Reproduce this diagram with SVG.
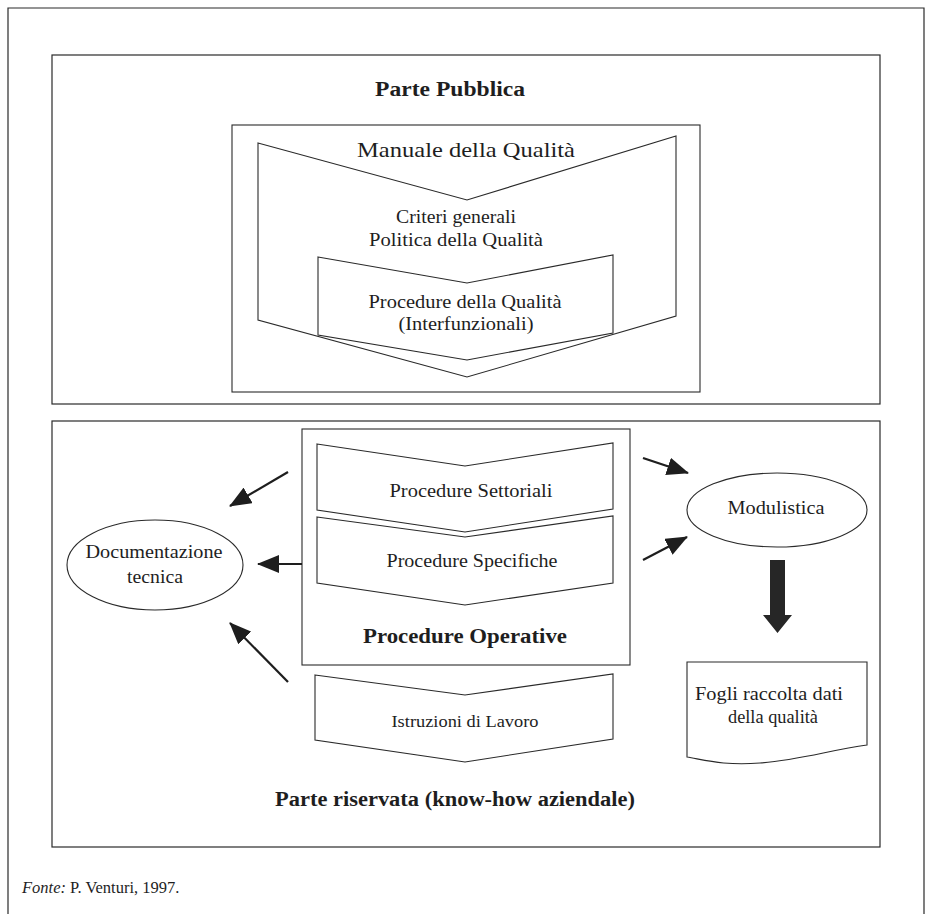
<svg xmlns="http://www.w3.org/2000/svg" width="932" height="914" viewBox="0 0 932 914">
<defs>
<style>
.ln{fill:none;stroke:#2a2a2a;stroke-width:1.2}
.sh{fill:#fff;stroke:#2a2a2a;stroke-width:1.1}
.t{font-family:"Liberation Serif","Times New Roman",serif;fill:#1e1e1e;font-size:18.5px;text-anchor:middle}
.b{font-weight:bold;font-size:20px}
.ar{stroke:#1e1e1e;stroke-width:2.2;fill:none}
</style>
<marker id="ah" markerUnits="userSpaceOnUse" markerWidth="22" markerHeight="18" refX="21" refY="9" orient="auto">
<path d="M0,0 L22,9 L0,18 z" fill="#1e1e1e"/>
</marker>
</defs>
<rect width="932" height="914" fill="#fff"/>
<path class="ln" d="M8,914 V8 H924 V914"/>

<g id="parte-pubblica">
<rect class="ln" x="52" y="55" width="828" height="349"/>
<text class="t b" x="450" y="96" textLength="150" lengthAdjust="spacingAndGlyphs">Parte Pubblica</text>
</g>

<g id="manuale">
<rect class="sh" x="232" y="125" width="468" height="267"/>
<path class="sh" d="M258,143 L467,200 L676,136 L676,316 L467,377 L258,320 Z"/>
<text class="t" x="466" y="157" style="font-size:21.5px" textLength="218" lengthAdjust="spacingAndGlyphs">Manuale della Qualità</text>
<text class="t" x="456" y="223" textLength="120" lengthAdjust="spacingAndGlyphs">Criteri generali</text>
<text class="t" x="456" y="246" textLength="174" lengthAdjust="spacingAndGlyphs">Politica della Qualità</text>
</g>

<g id="procedure-qualita">
<path class="sh" d="M318,257 L467,283 L613,255 L613,333 L467,360 L318,335 Z"/>
<text class="t" x="465" y="308" textLength="193" lengthAdjust="spacingAndGlyphs">Procedure della Qualità</text>
<text class="t" x="466" y="330" textLength="135" lengthAdjust="spacingAndGlyphs">(Interfunzionali)</text>
</g>

<g id="parte-riservata">
<rect class="ln" x="52" y="421" width="828" height="426"/>
<text class="t b" x="455" y="806" textLength="360" lengthAdjust="spacingAndGlyphs">Parte riservata (know-how aziendale)</text>
</g>

<g id="procedure-operative">
<rect class="sh" x="302" y="429" width="328" height="236"/>
<text class="t b" x="465" y="643" textLength="204" lengthAdjust="spacingAndGlyphs">Procedure Operative</text>
</g>

<g id="procedure-settoriali">
<path class="sh" d="M317,444 L465,466 L613,443 L613,509 L465,532 L317,510 Z"/>
<text class="t" x="471" y="497" textLength="163" lengthAdjust="spacingAndGlyphs">Procedure Settoriali</text>
</g>

<g id="procedure-specifiche">
<path class="sh" d="M317,517 L465,537 L613,516 L613,583 L465,605 L317,583 Z"/>
<text class="t" x="472" y="567" textLength="171" lengthAdjust="spacingAndGlyphs">Procedure Specifiche</text>
</g>

<g id="istruzioni">
<path class="sh" d="M315,675 L465,695 L613,674 L613,739 L465,762 L315,740 Z"/>
<text class="t" x="465" y="727" style="font-size:17.5px" textLength="147" lengthAdjust="spacingAndGlyphs">Istruzioni di Lavoro</text>
</g>

<g id="documentazione">
<ellipse class="sh" cx="155" cy="565" rx="88" ry="45"/>
<text class="t" x="154" y="558" style="font-size:18px" textLength="137" lengthAdjust="spacingAndGlyphs">Documentazione</text>
<text class="t" x="155" y="583" style="font-size:18px" textLength="56" lengthAdjust="spacingAndGlyphs">tecnica</text>
</g>

<g id="modulistica">
<ellipse class="sh" cx="777" cy="510" rx="90" ry="37"/>
<text class="t" x="776" y="514" style="font-size:18px" textLength="97" lengthAdjust="spacingAndGlyphs">Modulistica</text>
</g>

<g id="fogli">
<path class="sh" d="M687,662 H867 V745 C830,750 800,760 760,763 C725,766 705,760 687,757 Z"/>
<text class="t" x="769" y="700" style="font-size:18px" textLength="148" lengthAdjust="spacingAndGlyphs">Fogli raccolta dati</text>
<text class="t" x="773" y="723" style="font-size:18px" textLength="90" lengthAdjust="spacingAndGlyphs">della qualità</text>
</g>

<g id="connectors">
<line class="ar" x1="288" y1="472" x2="230" y2="506" marker-end="url(#ah)"/>
<line class="ar" x1="302" y1="564" x2="258" y2="564" stroke-width="3" marker-end="url(#ah)"/>
<line class="ar" x1="288" y1="682" x2="230" y2="623" marker-end="url(#ah)"/>
<line class="ar" x1="643" y1="458" x2="688" y2="473" marker-end="url(#ah)"/>
<line class="ar" x1="643" y1="560" x2="687" y2="537" marker-end="url(#ah)"/>
<path d="M770,560 H785 V615 H792 L777.5,633 L763,615 H770 Z" fill="#262626"/>
</g>

<text x="22" y="893" style="font-family:'Liberation Serif','Times New Roman',serif;font-size:16.5px;fill:#1e1e1e"><tspan font-style="italic">Fonte:</tspan> P. Venturi, 1997.</text>
</svg>
